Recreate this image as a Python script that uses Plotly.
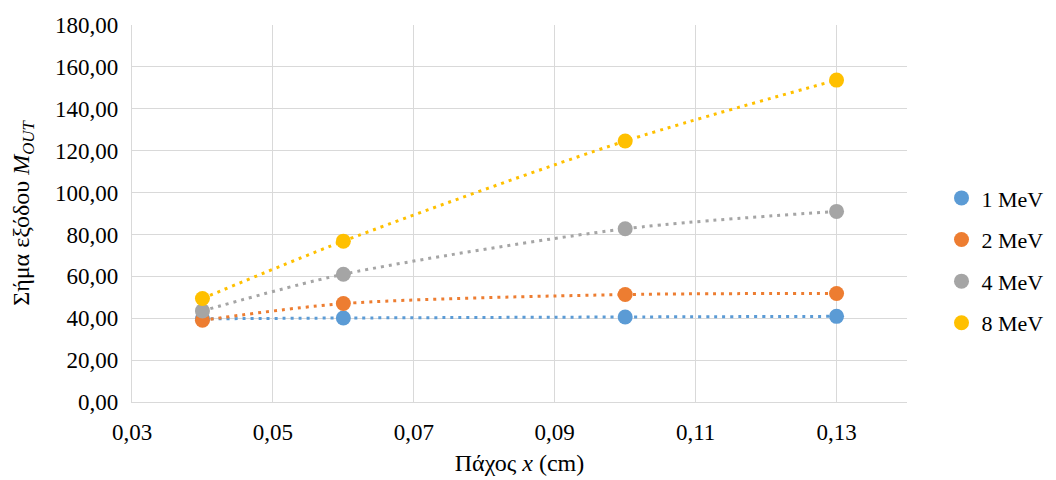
import plotly.graph_objects as go

thickness = [0.04, 0.06, 0.10, 0.13]
series_names = ["1 MeV", "2 MeV", "4 MeV", "8 MeV"]
mev1 = [39.7, 40.1, 40.6, 40.9]
mev2 = [39.0, 47.0, 51.3, 51.8]
mev4 = [43.5, 61.0, 82.7, 91.0]
mev8 = [49.4, 76.8, 124.6, 153.7]
colors = ["#5B9BD5", "#ED7D31", "#A5A5A5", "#FFC000"]

x_ticks = [0.03, 0.05, 0.07, 0.09, 0.11, 0.13]
y_ticks = [0, 20, 40, 60, 80, 100, 120, 140, 160, 180]

FONT = "Times New Roman"

fig = go.Figure()
for name, vals, col in zip(series_names, [mev1, mev2, mev4, mev8], colors):
    # dotted trend curve (not in legend)
    fig.add_trace(go.Scatter(
        x=thickness, y=vals, name=name, mode="lines",
        line=dict(color=col, width=3, dash="3px,5px", shape="spline", smoothing=0.8),
        showlegend=False, hoverinfo="skip", legendgroup=name,
    ))
for name, vals, col in zip(series_names, [mev1, mev2, mev4, mev8], colors):
    fig.add_trace(go.Scatter(
        x=thickness, y=vals, name=name, mode="markers",
        marker=dict(color=col, size=15),
        legendgroup=name,
    ))

fig.update_layout(
    width=1056, height=480,
    margin=dict(l=124, r=157, t=17, b=86, autoexpand=False),
    paper_bgcolor="white", plot_bgcolor="white",
    separators=",.",
    font=dict(family=FONT, size=22, color="#000000"),
    showlegend=True,
    legend=dict(
        xref="container", x=0.884, xanchor="left",
        y=0.375, yanchor="middle",
        font=dict(family=FONT, size=22, color="#000000"),
        tracegroupgap=10, traceorder="grouped",
        itemwidth=30,
    ),
    xaxis=dict(
        range=[0.03, 0.14], tickvals=x_ticks, tickformat=".2f",
        automargin=False,
        showgrid=True, gridcolor="#D9D9D9", gridwidth=1.3,
        showline=True, linecolor="#D9D9D9", linewidth=1.3,
        zeroline=False, ticks="", ticklabelstandoff=9,
        tickfont=dict(family=FONT, size=23),
        title=dict(text="Πάχος <i>x</i> (cm)", standoff=10,
                   font=dict(family=FONT, size=24)),
    ),
    yaxis=dict(
        range=[0, 180], tickvals=y_ticks, tickformat=".2f",
        automargin=False,
        showgrid=True, gridcolor="#D9D9D9", gridwidth=1.3,
        showline=True, linecolor="#D9D9D9", linewidth=1.3,
        zeroline=False, ticks="", ticklabelstandoff=8,
        tickfont=dict(family=FONT, size=23),
        title=dict(text="Σήμα εξόδου <i>M</i><sub><i>OUT</i></sub>", standoff=18,
                   font=dict(family=FONT, size=24)),
    ),
)

fig.write_html("out.html")
